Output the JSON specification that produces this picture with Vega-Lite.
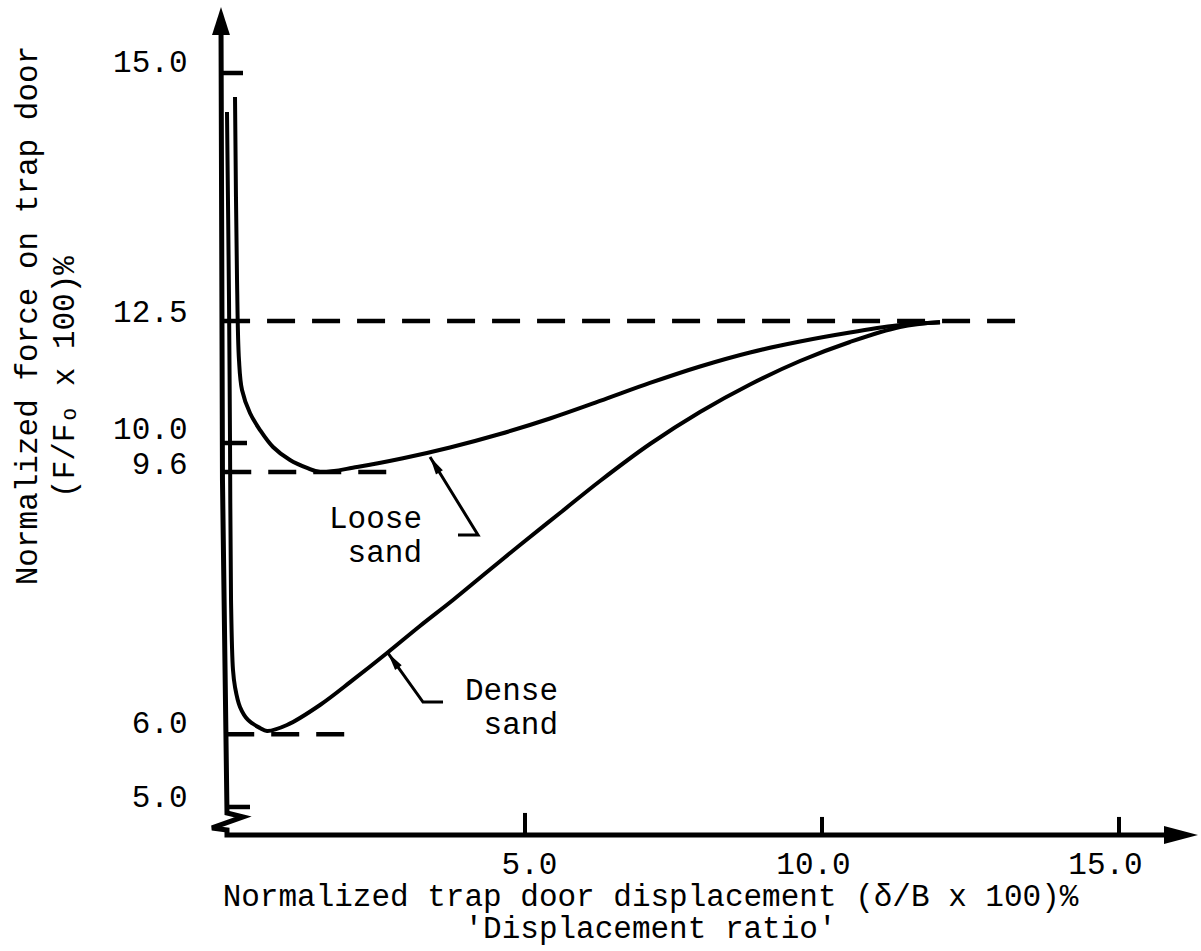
{
  "$schema": "https://vega.github.io/schema/vega-lite/v6.json",
  "width": 1000,
  "height": 835,
  "autosize": {"type": "none"},
  "padding": {"left": 200, "top": 0, "right": 1, "bottom": 116},
  "background": "white",
  "config": {"view": {"stroke": null}, "font": "Liberation Mono"},
  "datasets": {
    "curves": [
      {"s": "Dense sand", "i": 1, "x": -0.017, "y": 14.607},
      {"s": "Dense sand", "i": 2, "x": 0.017, "y": 12.712},
      {"s": "Dense sand", "i": 3, "x": 0.034, "y": 10.0},
      {"s": "Dense sand", "i": 4, "x": 0.051, "y": 7.843},
      {"s": "Dense sand", "i": 5, "x": 0.084, "y": 6.882},
      {"s": "Dense sand", "i": 6, "x": 0.118, "y": 6.648},
      {"s": "Dense sand", "i": 7, "x": 0.202, "y": 6.374},
      {"s": "Dense sand", "i": 8, "x": 0.337, "y": 6.195},
      {"s": "Dense sand", "i": 9, "x": 0.539, "y": 6.085},
      {"s": "Dense sand", "i": 10, "x": 0.657, "y": 6.044},
      {"s": "Dense sand", "i": 11, "x": 0.993, "y": 6.126},
      {"s": "Dense sand", "i": 12, "x": 1.549, "y": 6.401},
      {"s": "Dense sand", "i": 13, "x": 2.104, "y": 6.745},
      {"s": "Dense sand", "i": 14, "x": 2.677, "y": 7.115},
      {"s": "Dense sand", "i": 15, "x": 3.232, "y": 7.486},
      {"s": "Dense sand", "i": 16, "x": 3.788, "y": 7.843},
      {"s": "Dense sand", "i": 17, "x": 4.360, "y": 8.228},
      {"s": "Dense sand", "i": 18, "x": 4.916, "y": 8.599},
      {"s": "Dense sand", "i": 19, "x": 5.589, "y": 9.038},
      {"s": "Dense sand", "i": 20, "x": 6.263, "y": 9.478},
      {"s": "Dense sand", "i": 21, "x": 7.104, "y": 9.986},
      {"s": "Dense sand", "i": 22, "x": 7.946, "y": 10.635},
      {"s": "Dense sand", "i": 23, "x": 8.788, "y": 11.199},
      {"s": "Dense sand", "i": 24, "x": 9.630, "y": 11.680},
      {"s": "Dense sand", "i": 25, "x": 10.471, "y": 12.070},
      {"s": "Dense sand", "i": 26, "x": 11.313, "y": 12.377},
      {"s": "Dense sand", "i": 27, "x": 11.987, "y": 12.48},
      {"s": "Loose sand", "i": 1, "x": 0.118, "y": 14.758},
      {"s": "Loose sand", "i": 2, "x": 0.152, "y": 12.913},
      {"s": "Loose sand", "i": 3, "x": 0.185, "y": 11.701},
      {"s": "Loose sand", "i": 4, "x": 0.236, "y": 11.086},
      {"s": "Loose sand", "i": 5, "x": 0.370, "y": 10.615},
      {"s": "Loose sand", "i": 6, "x": 0.539, "y": 10.266},
      {"s": "Loose sand", "i": 7, "x": 0.758, "y": 9.945},
      {"s": "Loose sand", "i": 8, "x": 1.044, "y": 9.766},
      {"s": "Loose sand", "i": 9, "x": 1.330, "y": 9.657},
      {"s": "Loose sand", "i": 10, "x": 1.549, "y": 9.602},
      {"s": "Loose sand", "i": 11, "x": 2.172, "y": 9.670},
      {"s": "Loose sand", "i": 12, "x": 2.946, "y": 9.790},
      {"s": "Loose sand", "i": 13, "x": 3.737, "y": 9.938},
      {"s": "Loose sand", "i": 14, "x": 4.579, "y": 10.184},
      {"s": "Loose sand", "i": 15, "x": 5.421, "y": 10.502},
      {"s": "Loose sand", "i": 16, "x": 6.263, "y": 10.861},
      {"s": "Loose sand", "i": 17, "x": 7.104, "y": 11.230},
      {"s": "Loose sand", "i": 18, "x": 7.946, "y": 11.568},
      {"s": "Loose sand", "i": 19, "x": 8.788, "y": 11.855},
      {"s": "Loose sand", "i": 20, "x": 9.630, "y": 12.080},
      {"s": "Loose sand", "i": 21, "x": 10.471, "y": 12.264},
      {"s": "Loose sand", "i": 22, "x": 11.313, "y": 12.418},
      {"s": "Loose sand", "i": 23, "x": 11.987, "y": 12.467}
    ],
    "axisline": [
      {"i": 1, "x": -0.118, "y": 15.55},
      {"i": 2, "x": -0.093, "y": 9.492},
      {"i": 3, "x": -0.017, "y": 4.918},
      {"i": 4, "x": 0.253, "y": 4.863},
      {"i": 5, "x": -0.269, "y": 4.712},
      {"i": 6, "x": -0.017, "y": 4.684},
      {"i": 7, "x": -0.017, "y": 4.615},
      {"i": 8, "x": 15.9, "y": 4.615}
    ],
    "refs": [
      {"y": 12.5, "x": -0.1, "x2": 13.38},
      {"y": 9.6, "x": -0.08, "x2": 2.9},
      {"y": 6.0, "x": -0.03, "x2": 2.02}
    ],
    "yticks": [
      {"y": 15, "x": -0.118, "x2": 0.253},
      {"y": 10, "x": -0.093, "x2": 0.32},
      {"y": 5, "x": -0.03, "x2": 0.37}
    ],
    "xticks": [
      {"x": 5, "y": 4.615, "y2": 4.918},
      {"x": 10, "y": 4.615, "y2": 4.863},
      {"x": 15, "y": 4.615, "y2": 4.863}
    ],
    "pointers": [
      {"a": "Loose sand", "i": 1, "x": 3.401, "y": 9.808},
      {"a": "Loose sand", "i": 2, "x": 4.209, "y": 8.736},
      {"a": "Loose sand", "i": 3, "x": 3.872, "y": 8.736},
      {"a": "Dense sand", "i": 1, "x": 2.694, "y": 7.115},
      {"a": "Dense sand", "i": 2, "x": 3.283, "y": 6.442},
      {"a": "Dense sand", "i": 3, "x": 3.620, "y": 6.442}
    ],
    "notes": [
      {"t": "Loose\nsand", "x": 3.266, "y": 8.832},
      {"t": "Dense\nsand", "x": 5.556, "y": 6.470}
    ],
    "ytitle2": [
      {"t": "(F/Fₒ x 100)%", "x": -2.593, "y": 11.352}
    ]
  },
  "encoding": {
    "x": {
      "field": "x",
      "type": "quantitative",
      "scale": {"domain": [-0.4714, 16.364], "nice": false, "zero": false},
      "axis": {
        "values": [5, 10, 15],
        "format": ".1f",
        "domain": false,
        "ticks": false,
        "grid": false,
        "labelOverlap": false,
        "labelFont": "Liberation Mono",
        "labelFontSize": 31,
        "labelColor": "black",
        "labelBaseline": "alphabetic",
        "labelPadding": 38,
        "labelOffset": {"condition": [{"test": "datum.value == 10", "value": -9}, {"test": "datum.value == 15", "value": -14}], "value": 4},
        "title": ["Normalized trap door displacement (δ/B x 100)%", "'Displacement ratio'"],
        "titleFont": "Liberation Mono",
        "titleFontSize": 31,
        "titleFontWeight": "normal",
        "titleColor": "black",
        "titleBaseline": "alphabetic",
        "titleAlign": "center",
        "titleLineHeight": 32,
        "titleX": 450,
        "titleY": 70
      }
    },
    "y": {
      "field": "y",
      "type": "quantitative",
      "scale": {"domain": [4.615, 10, 12.5, 15, 15.736], "range": [835, 443, 321, 73, 0], "nice": false, "zero": false},
      "axis": {
        "values": [5, 6, 9.6, 10, 12.5, 15],
        "format": ".1f",
        "domain": false,
        "ticks": false,
        "grid": false,
        "labelOverlap": false,
        "labelFont": "Liberation Mono",
        "labelFontSize": 31,
        "labelColor": "black",
        "labelBaseline": "alphabetic",
        "labelAlign": "right",
        "labelPadding": 13,
        "labelOffset": {"condition": [{"test": "datum.value == 10", "value": -5}, {"test": "datum.value == 9.6", "value": 1}, {"test": "datum.value == 15 || datum.value == 6", "value": -2}], "value": 0},
        "title": "Normalized force on trap door",
        "titleFont": "Liberation Mono",
        "titleFontSize": 31,
        "titleFontWeight": "normal",
        "titleColor": "black",
        "titleAngle": 270,
        "titleAlign": "center",
        "titleBaseline": "alphabetic",
        "titleX": -164,
        "titleY": 315
      }
    }
  },
  "layer": [
    {
      "data": {"name": "refs"},
      "mark": {"type": "rule", "color": "black", "strokeWidth": 4.5, "strokeDash": [28, 17]},
      "encoding": {"x2": {"field": "x2"}}
    },
    {
      "data": {"name": "yticks"},
      "mark": {"type": "rule", "color": "black", "strokeWidth": 4.5},
      "encoding": {"x2": {"field": "x2"}}
    },
    {
      "data": {"name": "xticks"},
      "mark": {"type": "rule", "color": "black", "strokeWidth": 4},
      "encoding": {"y2": {"field": "y2"}}
    },
    {
      "data": {"name": "axisline"},
      "mark": {"type": "line", "color": "black", "strokeWidth": 5, "strokeJoin": "miter"},
      "encoding": {"order": {"field": "i", "type": "quantitative"}}
    },
    {
      "data": {"values": [{"x": -0.118, "y": 15.524}]},
      "mark": {"type": "point", "shape": "M0,-1L0.64,1L-0.64,1Z", "size": 784, "filled": true, "color": "black", "opacity": 1}
    },
    {
      "data": {"values": [{"x": 16.044, "y": 4.615}]},
      "mark": {"type": "point", "shape": "M1,0L-1,-0.53L-1,0.53Z", "size": 1156, "filled": true, "color": "black", "opacity": 1}
    },
    {
      "data": {"name": "curves"},
      "mark": {"type": "line", "color": "black", "strokeWidth": 4, "interpolate": "catmull-rom"},
      "encoding": {"detail": {"field": "s"}, "order": {"field": "i", "type": "quantitative"}}
    },
    {
      "data": {"name": "pointers"},
      "mark": {"type": "line", "color": "black", "strokeWidth": 3},
      "encoding": {"detail": {"field": "a"}, "order": {"field": "i", "type": "quantitative"}}
    },
    {
      "data": {"values": [{"x": 3.48, "y": 9.702}]},
      "mark": {"type": "point", "shape": "M0,-1L0.45,1L-0.45,1Z", "size": 324, "angle": -31.6, "filled": true, "color": "black", "opacity": 1}
    },
    {
      "data": {"values": [{"x": 2.781, "y": 7.015}]},
      "mark": {"type": "point", "shape": "M0,-1L0.45,1L-0.45,1Z", "size": 324, "angle": -35.5, "filled": true, "color": "black", "opacity": 1}
    },
    {
      "data": {"name": "notes"},
      "mark": {"type": "text", "font": "Liberation Mono", "fontSize": 31, "color": "black", "align": "right", "baseline": "alphabetic", "lineBreak": "\n", "lineHeight": 34},
      "encoding": {"text": {"field": "t"}}
    },
    {
      "data": {"name": "ytitle2"},
      "mark": {"type": "text", "font": "Liberation Mono", "fontSize": 31, "color": "black", "align": "center", "baseline": "alphabetic", "angle": 270},
      "encoding": {"text": {"field": "t"}}
    }
  ]
}
